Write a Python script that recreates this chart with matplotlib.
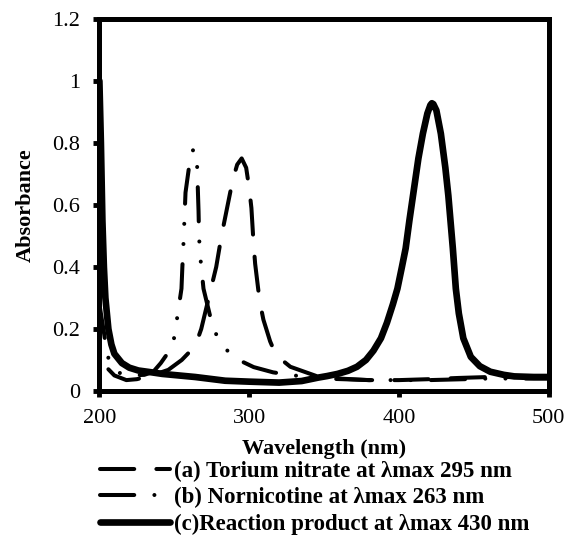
import matplotlib
matplotlib.use('Agg')
import matplotlib.pyplot as plt
from matplotlib.ticker import FuncFormatter

plt.rcParams['font.family'] = ['Liberation Serif', 'DejaVu Serif']

# (a) Torium nitrate
wl_a = [206, 210, 218, 225, 235, 246, 255, 264, 268, 274, 278, 281.5, 284, 289, 292, 295,
        298, 300, 301.5, 303, 304, 307, 309.5, 314, 318, 327.5, 345, 360, 380, 400, 420,
        440, 460, 500]
abs_a = [0.07, 0.05, 0.035, 0.038, 0.05, 0.068, 0.1, 0.145, 0.2, 0.32, 0.40, 0.5, 0.56, 0.68,
         0.73, 0.75, 0.72, 0.655, 0.59, 0.47, 0.41, 0.29, 0.23, 0.16, 0.115, 0.078, 0.048,
         0.04, 0.035, 0.035, 0.038, 0.042, 0.045, 0.045]

# (b) Nornicotine
wl_b = [200, 203, 205, 208, 212, 220, 230, 236, 241, 249, 251, 254.8, 255.4, 256, 256.5,
        257.5, 259.5, 261, 263, 265, 265.8, 266.2, 266.5, 267, 269.5, 276, 283, 293, 303,
        316, 330, 350, 380, 420, 460, 500]
abs_b = [0.28, 0.19, 0.12, 0.08, 0.06, 0.05, 0.052, 0.062, 0.09, 0.145, 0.206, 0.33, 0.40,
         0.46, 0.52, 0.64, 0.71, 0.765, 0.78, 0.765, 0.64, 0.58, 0.51, 0.45, 0.33, 0.2, 0.14,
         0.1, 0.077, 0.06, 0.05, 0.04, 0.035, 0.035, 0.04, 0.04]

# (c) Reaction product
wl_c = [200, 201, 202, 203, 204, 206, 208, 210, 215, 220, 226, 235, 242, 264, 284, 300, 320,
        335, 346, 352, 359, 366, 372, 378, 383, 388, 392, 396, 399, 402, 404.5, 407, 410,
        413, 416, 419, 421, 422, 423, 425, 428, 431, 433, 436, 438, 440, 443, 448, 454, 461,
        470, 477, 490, 500]
abs_c = [1.0, 0.8, 0.55, 0.4, 0.3, 0.2, 0.15, 0.12, 0.09, 0.075, 0.066, 0.06, 0.055, 0.045,
         0.033, 0.03, 0.027, 0.032, 0.043, 0.048, 0.055, 0.065, 0.078, 0.1, 0.13, 0.17, 0.22,
         0.28, 0.33, 0.40, 0.46, 0.55, 0.65, 0.75, 0.83, 0.895, 0.922, 0.928, 0.925, 0.905,
         0.83, 0.72, 0.63, 0.46, 0.33, 0.25, 0.17, 0.11, 0.08, 0.062, 0.052, 0.047, 0.045,
         0.045]

labels = ['(a) Torium nitrate at \u03bbmax 295 nm',
          '(b) Nornicotine at \u03bbmax 263 nm',
          '(c)Reaction product at \u03bbmax 430 nm']

fig = plt.figure(figsize=(5.68, 5.4), dpi=100)
ax = fig.add_axes([0.175, 0.276, 0.791, 0.689])

ax.plot(wl_a, abs_a, color='black', lw=2.9, linestyle=(0, (8.5, 5.5)),
        dash_capstyle='round', label=labels[0])
ax.plot(wl_b, abs_b, color='black', lw=2.9, linestyle=(0, (8.5, 5, 0.01, 5, 0.01, 5)),
        dash_capstyle='round', label=labels[1])
ax.plot(wl_c, abs_c, color='black', lw=4.8, solid_capstyle='round',
        solid_joinstyle='round', label=labels[2])

ax.set_xlim(200, 500)
ax.set_ylim(0, 1.2)
ax.set_xticks([200, 300, 400, 500])
ax.set_yticks([0, 0.2, 0.4, 0.6, 0.8, 1.0, 1.2])
ax.yaxis.set_major_formatter(FuncFormatter(lambda v, p: '%g' % round(v, 1)))
ax.tick_params(direction='out', length=4, width=3.5, labelsize=16)
ax.tick_params(axis='x', pad=9)
ax.tick_params(axis='y', pad=10)
for s in ax.spines.values():
    s.set_linewidth(3.6)

ax.set_xlabel('Wavelength (nm)', fontsize=16, fontweight='bold', labelpad=8)
ax.set_ylabel('Absorbance', fontsize=16, fontweight='bold', labelpad=12)

leg = fig.legend(loc='upper left', bbox_to_anchor=(0.176, 0.147), frameon=False,
                 prop={'size': 16.5, 'weight': 'bold'}, handlelength=3.05,
                 handletextpad=0.2, labelspacing=0.24, borderpad=0, borderaxespad=0)

fig.savefig('out.png', dpi=100)
